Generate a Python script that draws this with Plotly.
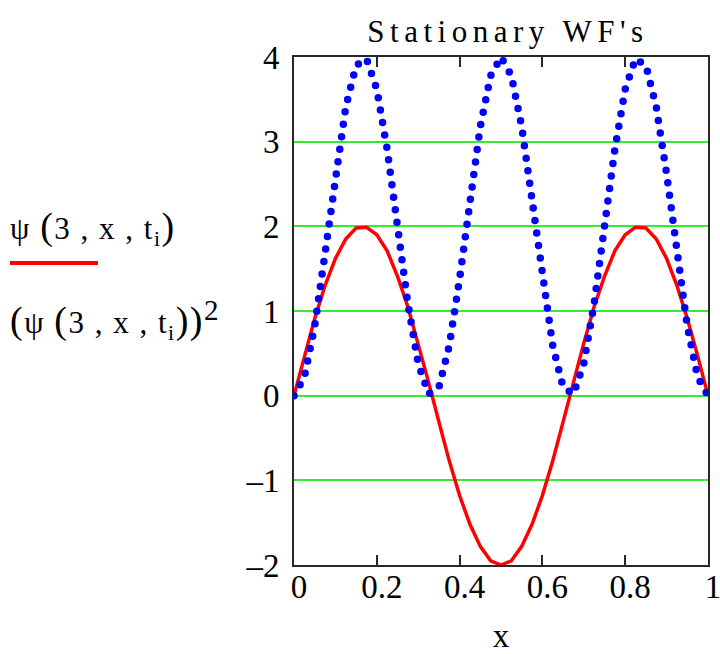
import plotly.graph_objects as go

# sample positions (range variable x = 0, 0.025 .. 1)
x_vals = [0.000, 0.025, 0.050, 0.075, 0.100, 0.125, 0.150, 0.175, 0.200, 0.225,
          0.250, 0.275, 0.300, 0.325, 0.350, 0.375, 0.400, 0.425, 0.450, 0.475,
          0.500, 0.525, 0.550, 0.575, 0.600, 0.625, 0.650, 0.675, 0.700, 0.725,
          0.750, 0.775, 0.800, 0.825, 0.850, 0.875, 0.900, 0.925, 0.950, 0.975,
          1.000]

# psi(3, x, t_i)  (red solid trace)
psi_vals = [0.00, 0.47, 0.91, 1.30, 1.62, 1.85, 1.98, 1.99, 1.90, 1.71,
            1.41, 1.05, 0.62, 0.16, -0.31, -0.77, -1.18, -1.52, -1.78, -1.95,
            -2.00, -1.95, -1.78, -1.52, -1.18, -0.77, -0.31, 0.16, 0.62, 1.05,
            1.41, 1.71, 1.90, 1.99, 1.98, 1.85, 1.62, 1.30, 0.91, 0.47,
            0.00]

# (psi(3, x, t_i))^2  (blue dotted trace)
psi2_vals = [0.00, 0.22, 0.82, 1.69, 2.62, 3.41, 3.90, 3.98, 3.62, 2.91,
             2.00, 1.09, 0.38, 0.02, 0.10, 0.59, 1.38, 2.31, 3.18, 3.78,
             4.00, 3.78, 3.18, 2.31, 1.38, 0.59, 0.10, 0.02, 0.38, 1.09,
             2.00, 2.91, 3.62, 3.98, 3.90, 3.41, 2.62, 1.69, 0.82, 0.22,
             0.00]

x_ticks = [0, 0.2, 0.4, 0.6, 0.8, 1]
x_ticktext = ["0", "0.2", "0.4", "0.6", "0.8", "1"]
y_ticks = [-2, -1, 0, 1, 2, 3, 4]
y_ticktext = ["\u20132", "\u20131", "0", "1", "2", "3", "4"]

W, H = 720, 654
L, R, T, B = 294, 708, 57, 565  # plot area in pixels


def px(xp):
    return (xp - L) / (R - L)


def py(yp):
    return (B - yp) / (B - T)


FONT = "Liberation Serif, Times New Roman, serif"
GREEN = "rgb(50,235,50)"

fig = go.Figure()
fig.add_trace(go.Scatter(x=x_vals, y=psi_vals, mode="lines",
                         line=dict(color="rgb(255,0,0)", width=3.5),
                         showlegend=False, hoverinfo="skip"))
fig.add_trace(go.Scatter(x=x_vals, y=psi2_vals, mode="lines",
                         line=dict(color="rgb(0,0,255)", width=7.5, dash="0px,12.6px"),
                         showlegend=False, hoverinfo="skip"))

big = '<span style="font-size:38px">%s</span>'
lab1 = "\u03c8 " + big % "(" + "3 , x , t<sub>i</sub>" + big % ")"
lab2 = (big % "(" + "\u03c8 " + big % "(" + "3 , x , t<sub>i</sub>" + big % "))"
        + '<sup><span style="font-size:29px">2</span></sup>')

fig.update_layout(
    width=W, height=H, autosize=False,
    margin=dict(l=L, r=W - R, t=T, b=H - B, pad=0, autoexpand=False),
    paper_bgcolor="white", plot_bgcolor="white",
    font=dict(family=FONT, size=33, color="black"),
    title=dict(text="Stationary WF's", x=px(508), xref="paper", xanchor="center",
               y=1 - 31 / H, yref="container", yanchor="middle",
               font=dict(family=FONT, size=31, color="black")),
    xaxis=dict(range=[0, 1], tickvals=x_ticks, ticktext=x_ticktext,
               showgrid=False, zeroline=False, automargin=False,
               showline=True, linecolor="rgb(40,40,40)", linewidth=2, mirror="ticks",
               ticks="inside", ticklen=10, tickwidth=1.5, tickcolor="rgb(40,40,40)",
               ticklabelshift=5, ticklabelstandoff=-9, ticklabeloverflow="allow",
               tickfont=dict(family=FONT, size=33),
               title=dict(text="x", standoff=39, font=dict(family=FONT, size=33))),
    yaxis=dict(range=[-2, 4], tickvals=y_ticks, ticktext=y_ticktext,
               showgrid=True, gridcolor=GREEN, gridwidth=1.5, zeroline=False,
               automargin=False,
               showline=True, linecolor="rgb(40,40,40)", linewidth=2, mirror=True,
               ticks="", ticklabelstandoff=6,
               tickfont=dict(family=FONT, size=33)),
    annotations=[
        dict(text=lab1, xref="paper", yref="paper", x=px(8), y=py(228),
             xanchor="left", yanchor="middle", align="left", showarrow=False,
             font=dict(family=FONT, size=31, color="black")),
        dict(text=lab2, xref="paper", yref="paper", x=px(8), y=py(319),
             xanchor="left", yanchor="middle", align="left", showarrow=False,
             font=dict(family=FONT, size=31, color="black")),
    ],
    shapes=[dict(type="line", xref="paper", yref="paper",
                 x0=px(10), x1=px(98), y0=py(263), y1=py(263),
                 line=dict(color="rgb(255,0,0)", width=4))],
)

post = """
var gd = document.getElementById('{plot_id}');
document.body.style.margin = '0';
function fix(){
  gd.querySelectorAll('path.js-line').forEach(function(p){
    if ((p.style.stroke || '').indexOf('0, 0, 255') >= 0) { p.style.strokeLinecap = 'round'; }
  });
  var t = gd.querySelector('.gtitle'); if (t) { t.style.letterSpacing = '5.5px'; }
  gd.querySelectorAll('.annotation-text').forEach(function(a){ a.style.letterSpacing = '1.5px'; });
}
fix();
gd.on('plotly_afterplot', fix);
"""

fig.write_html("out.html", post_script=post, config={"displayModeBar": False})
